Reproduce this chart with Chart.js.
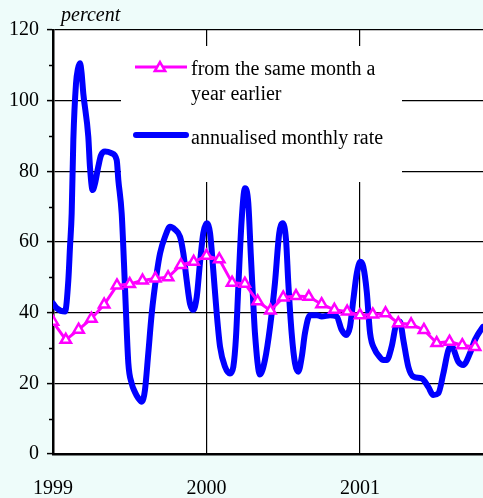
<!DOCTYPE html>
<html>
<head>
<meta charset="utf-8">
<script src="https://cdn.jsdelivr.net/npm/chart.js@4/dist/chart.umd.min.js"></script>
<style>
  html, body { margin: 0; padding: 0; background: #EEFCFA; }
  #wrap { width: 483px; height: 498px; }
</style>
</head>
<body>
<div id="wrap"><canvas id="c" width="483" height="498"></canvas></div>
<script>
// Year tick positions (months since January 1999) and their labels
const yearTickMonths = [0, 12, 24];
const yearLabels = ['1999', '2000', '2001'];

// Percent change from the same month a year earlier, Jan 1999 – Oct 2001
const yoyValues = [
  37.4, 32.3, 35.2, 38.3, 42.3, 47.7, 48.1, 49.1, 49.7, 50.0, 53.5, 54.4,
  56.1, 55.1, 48.5, 48.2, 43.2, 40.6, 44.3, 44.7, 44.5, 42.4, 40.8, 40.3,
  39.3, 39.5, 39.8, 37.0, 36.7, 35.1, 31.4, 31.8, 30.8, 30.3
];

// Annualised monthly rate: sample positions (months since Jan 1999) and values
const rateMonth = [
  0.00, 0.31, 0.94, 1.20, 1.33, 1.46, 1.59, 1.80, 1.95, 2.11, 2.23, 2.37,
  2.76, 2.89, 3.10, 3.28, 3.54, 3.75, 4.07, 4.59, 4.98, 5.11, 5.37, 5.55,
  5.71, 5.89, 6.15, 6.41, 6.67, 6.94, 7.19, 7.45, 7.72, 8.11, 8.37, 8.76,
  9.15, 9.54, 9.93, 10.19, 10.45, 10.71, 10.97, 11.24, 11.49, 11.75, 12.02, 12.28,
  12.53, 12.80, 13.06, 13.45, 13.84, 14.10, 14.31, 14.49, 14.75, 15.01, 15.27, 15.46,
  15.66, 15.79, 16.18, 16.57, 16.97, 17.35, 17.69, 17.96, 18.22, 18.40, 18.66, 18.92,
  19.18, 19.45, 19.70, 20.09, 20.62, 21.01, 21.66, 22.18, 22.57, 22.91, 23.22, 23.48,
  23.75, 24.04, 24.26, 24.53, 24.79, 25.18, 25.43, 25.83, 26.09, 26.48, 26.87, 27.13,
  27.39, 27.78, 28.17, 28.83, 29.34, 29.73, 30.13, 30.52, 30.91, 31.17, 31.69, 32.08,
  32.60, 32.99, 33.62, 34.00
];
const rateValue = [
  42.6, 41.2, 40.3, 49.2, 58.7, 68.1, 88.9, 104.9, 109.0, 110.6, 108.0, 102.0,
  89.8, 81.3, 74.7, 76.5, 81.3, 84.5, 85.6, 85.1, 83.2, 77.5, 68.1, 54.0,
  39.8, 25.7, 20.0, 17.5, 15.8, 14.8, 18.1, 28.5, 39.8, 51.1, 56.8, 61.5,
  64.3, 63.5, 61.5, 56.8, 49.2, 42.6, 40.8, 44.5, 54.0, 62.5, 65.3, 62.5,
  52.1, 39.8, 30.4, 24.7, 22.8, 24.7, 33.2, 47.4, 66.2, 75.2, 71.0, 56.8,
  42.6, 34.2, 22.5, 26.6, 36.0, 48.3, 62.5, 65.3, 60.6, 48.3, 34.2, 25.7,
  23.3, 27.5, 34.2, 39.3, 39.3, 38.9, 39.3, 38.9, 35.1, 33.7, 36.0, 43.6,
  51.1, 54.4, 53.0, 46.0, 34.2, 29.4, 28.0, 26.6, 26.6, 30.4, 37.0, 37.4,
  32.3, 24.7, 21.9, 21.4, 19.0, 16.7, 17.2, 22.8, 29.4, 30.4, 26.1, 25.2,
  28.5, 32.3, 36.0, 37.5
];

const yoyLabel = ['from the same month a', 'year earlier'];
const rateLabel = 'annualised monthly rate';
const unitLabel = 'percent';

const SERIF = "'Liberation Serif', 'Times New Roman', serif";
const FONT_SIZE = 20;
const MAGENTA = '#FF00FF';
const BLUE = '#0000FF';
const TRI_RADIUS = 6;

// White plotting area behind the grid
const plotBackground = {
  id: 'plotBackground',
  beforeDraw(chart) {
    const { ctx, chartArea: a } = chart;
    ctx.save();
    ctx.fillStyle = '#FFFFFF';
    ctx.fillRect(a.left, a.top, a.right - a.left, a.bottom - a.top);
    ctx.restore();
  }
};

// Short minor ticks on the value axis, plus the unit caption
const minorTicks = {
  id: 'minorTicks',
  afterDraw(chart) {
    const { ctx } = chart;
    const y = chart.scales.y;
    ctx.save();
    ctx.strokeStyle = '#000';
    ctx.lineWidth = 1.5;
    for (let v = 10; v < 120; v += 20) {
      const py = Math.round(y.getPixelForValue(v)) + 0.5;
      ctx.beginPath();
      ctx.moveTo(y.right - 4, py);
      ctx.lineTo(y.right, py);
      ctx.stroke();
    }
    ctx.fillStyle = '#000';
    ctx.font = 'italic ' + FONT_SIZE + 'px ' + SERIF;
    ctx.textBaseline = 'alphabetic';
    ctx.textAlign = 'left';
    ctx.fillText(unitLabel, 61, 21);
    ctx.restore();
  }
};

// Legend drawn in a white panel inside the plot
const panelLegend = {
  id: 'panelLegend',
  beforeDatasetsDraw(chart) {
    const { ctx, chartArea: a } = chart;
    const L = a.left, T = a.top;
    ctx.save();
    ctx.fillStyle = '#FFFFFF';
    ctx.fillRect(L + 68, T + 16, 281, 136);

    // year-on-year sample
    ctx.strokeStyle = MAGENTA;
    ctx.lineWidth = 3;
    ctx.beginPath();
    ctx.moveTo(L + 82, T + 37);
    ctx.lineTo(L + 134, T + 37);
    ctx.stroke();
    const cx = L + 107, cy = T + 38, r = TRI_RADIUS;
    ctx.lineWidth = 2.5;
    ctx.beginPath();
    for (let k = 0; k < 3; k++) {
      const ang = k * 2 * Math.PI / 3;
      const px = cx + Math.sin(ang) * r, py = cy - Math.cos(ang) * r;
      if (k === 0) ctx.moveTo(px, py); else ctx.lineTo(px, py);
    }
    ctx.closePath();
    ctx.fillStyle = '#FFFFFF';
    ctx.fill();
    ctx.stroke();

    // annualised sample
    ctx.strokeStyle = BLUE;
    ctx.lineWidth = 6;
    ctx.lineCap = 'round';
    ctx.beginPath();
    ctx.moveTo(L + 83, T + 105);
    ctx.lineTo(L + 133, T + 105);
    ctx.stroke();

    ctx.fillStyle = '#000';
    ctx.font = FONT_SIZE + 'px ' + SERIF;
    ctx.textAlign = 'left';
    ctx.textBaseline = 'alphabetic';
    ctx.fillText(yoyLabel[0], L + 138, T + 45);
    ctx.fillText(yoyLabel[1], L + 138, T + 70);
    ctx.fillText(rateLabel, L + 138, T + 114);
    ctx.restore();
  }
};

new Chart(document.getElementById('c'), {
  type: 'line',
  data: {
    datasets: [
      {
        label: yoyLabel.join(' '),
        data: yoyValues.map((v, i) => ({ x: i, y: v })),
        borderColor: MAGENTA,
        borderWidth: 3,
        pointStyle: 'triangle',
        pointRadius: TRI_RADIUS,
        pointBorderWidth: 2.5,
        pointBorderColor: MAGENTA,
        pointBackgroundColor: '#FFFFFF',
        tension: 0
      },
      {
        label: rateLabel,
        data: rateMonth.map((m, i) => ({ x: m, y: rateValue[i] })),
        borderColor: BLUE,
        borderWidth: 6,
        pointRadius: 0,
        cubicInterpolationMode: 'monotone',
        borderCapStyle: 'round',
        borderJoinStyle: 'round'
      }
    ]
  },
  options: {
    responsive: false,
    animation: false,
    events: [],
    layout: { autoPadding: false, padding: { top: 30, left: 0, right: 0, bottom: 0 } },
    plugins: { legend: { display: false }, tooltip: { enabled: false }, title: { display: false } },
    scales: {
      x: {
        type: 'linear',
        min: 0,
        max: 33.62,
        afterBuildTicks(scale) {
          scale.ticks = yearTickMonths.map(v => ({ value: v }));
        },
        afterFit(scale) {
          scale.height = 44;
          scale.paddingLeft = 0;
          scale.paddingRight = 0;
        },
        ticks: {
          autoSkip: false,
          maxRotation: 0,
          padding: 23,
          color: '#000',
          font: { family: SERIF, size: FONT_SIZE },
          callback: v => yearLabels[yearTickMonths.indexOf(v)]
        },
        grid: {
          drawTicks: false,
          lineWidth: 1.2,
          color: ctx => (ctx.tick && ctx.tick.value > 0 ? '#000' : 'rgba(0,0,0,0)')
        },
        border: { display: true, color: '#000', width: 2.5 }
      },
      y: {
        min: 0,
        max: 120,
        afterFit(scale) { scale.width = 53; },
        ticks: {
          stepSize: 20,
          padding: 8,
          color: '#000',
          font: { family: SERIF, size: FONT_SIZE }
        },
        grid: {
          tickLength: 6,
          lineWidth: 1.2,
          tickWidth: 1.5,
          tickColor: '#000',
          color: ctx => (ctx.tick && ctx.tick.value > 0 ? '#000' : 'rgba(0,0,0,0)')
        },
        border: { display: true, color: '#000', width: 2.5 }
      }
    }
  },
  plugins: [plotBackground, panelLegend, minorTicks]
});
</script>
</body>
</html>
